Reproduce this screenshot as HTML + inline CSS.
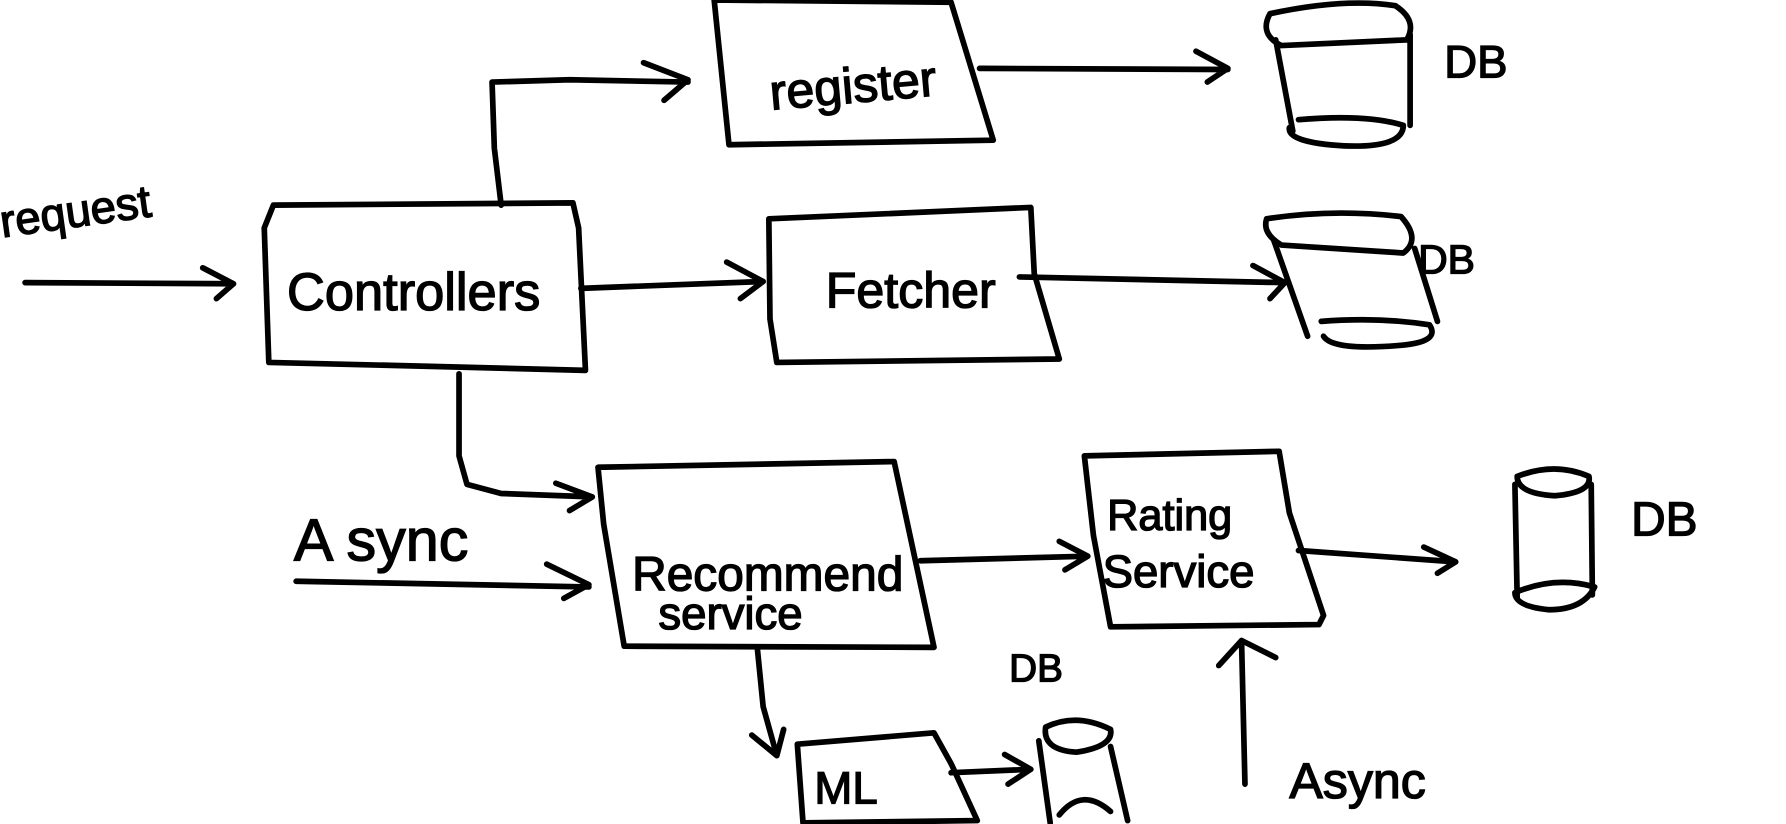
<!DOCTYPE html>
<html><head><meta charset="utf-8"><style>
html,body{margin:0;padding:0;background:#fff;}
svg{display:block;}
text{font-family:"Liberation Sans",sans-serif;fill:#000;stroke:#000;stroke-width:1.2;}
</style></head><body>
<svg width="1786" height="824" viewBox="0 0 1568 723" preserveAspectRatio="none" xmlns="http://www.w3.org/2000/svg">
<g fill="none" stroke="#000" stroke-width="5" stroke-linecap="round" stroke-linejoin="round">
<path d="M22 248 L205 249 M178 235 L205 249 L190 262"/>
<path d="M240 180 L503 178 L508 200 L514 325 L400 322 L236 318 L232 200 Z"/>
<path d="M440 180 L434 130 L432 72 L500 70 L604 72 M565 55 L604 70 L583 88"/>
<path d="M627 0 L835 2 L872 123 L640 127 Z"/>
<path d="M860 60 L1078 61 M1050 45 L1078 60 L1060 72"/>
<path d="M1115 12 Q1180 -2 1225 5 Q1245 18 1235 35 L1125 40 Q1105 30 1115 12 Z M1120 35 L1135 115 M1238 30 L1238 110 M1140 105 Q1200 100 1232 110 Q1232 130 1180 128 Q1130 125 1132 112"/>
<path d="M510 253 L670 247 M638 230 L670 247 L650 262"/>
<path d="M675 192 L905 182 L908 240 L930 315 L682 318 L676 280 Z"/>
<path d="M895 243 L1128 248 M1100 233 L1128 248 L1115 262"/>
<path d="M1112 192 Q1170 183 1230 190 Q1248 210 1232 222 L1125 215 Q1108 205 1112 192 Z M1118 210 L1148 295 M1242 218 L1262 282 M1160 282 Q1210 278 1255 285 Q1265 300 1230 303 Q1170 308 1162 295"/>
<path d="M403 328 L403 400 L410 425 L440 433 L520 436 M488 424 L520 436 L500 448"/>
<path d="M260 510 L517 515 M480 495 L517 513 L495 525"/>
<path d="M525 410 L785 405 L820 568 L548 567 L530 460 Z"/>
<path d="M808 492 L955 488 M930 475 L955 488 L935 500"/>
<path d="M952 400 L1123 396 L1132 450 L1162 540 L1158 548 L975 550 L960 470 Z"/>
<path d="M1140 483 L1278 493 M1250 480 L1278 493 L1262 503"/>
<path d="M1332 418 Q1365 405 1395 418 Q1398 432 1365 435 Q1332 433 1332 418 Z M1330 425 L1332 525 M1397 425 L1398 522 M1330 520 Q1365 505 1400 515 Q1390 535 1360 535 Q1330 532 1330 520"/>
<path d="M1093 688 L1090 562 M1070 584 L1090 562 L1120 577"/>
<path d="M665 570 L670 620 L682 663 M660 645 L682 663 L688 640"/>
<path d="M700 653 L820 643 L835 670 L858 720 L705 722 Z"/>
<path d="M835 678 L905 675 M882 662 L905 675 L885 688"/>
<path d="M918 638 Q945 625 975 640 Q978 655 945 660 Q915 658 918 638 Z M912 650 L922 722 M975 655 L990 720 M930 715 Q950 690 975 712"/>
</g>
<g>
<text x="0" y="200" font-size="40" transform="rotate(-8 60 190)">request</text>
<text x="252" y="272" font-size="46">Controllers</text>
<text x="675" y="90" font-size="44" transform="rotate(-5 750 70)">register</text>
<text x="725" y="270" font-size="44">Fetcher</text>
<text x="258" y="492" font-size="52">A sync</text>
<text x="555" y="518" font-size="42">Recommend</text>
<text x="578" y="552" font-size="40">service</text>
<text x="972" y="465" font-size="38">Rating</text>
<text x="968" y="515" font-size="40">Service</text>
<text x="1268" y="68" font-size="40">DB</text>
<text x="1245" y="240" font-size="36">DB</text>
<text x="1432" y="470" font-size="42">DB</text>
<text x="886" y="598" font-size="34">DB</text>
<text x="715" y="705" font-size="40">ML</text>
<text x="1132" y="700" font-size="44">Async</text>
</g>
</svg>
</body></html>
